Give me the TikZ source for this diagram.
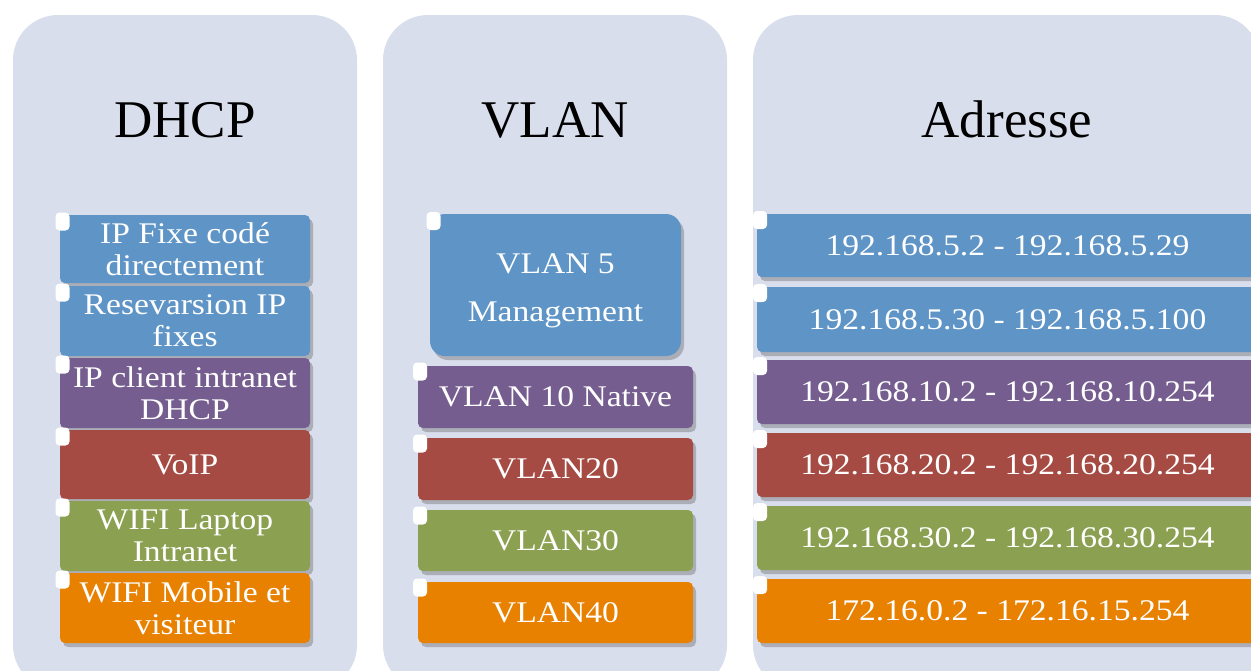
\documentclass[tikz,border=0pt]{standalone}
\usepackage{fontspec}
\setmainfont[FakeStretch=1.12]{Liberation Serif}
\newfontfamily\titlefont{Liberation Serif}
\usetikzlibrary{shadows}
\definecolor{panelc}{HTML}{D9DEEC}
\definecolor{cblue}{HTML}{5E94C6}
\definecolor{cpurple}{HTML}{755E8F}
\definecolor{cred}{HTML}{A64B43}
\definecolor{cgreen}{HTML}{8BA050}
\definecolor{corange}{HTML}{E88000}
\tikzset{
  panel/.style={fill=panelc, rounded corners=45pt},
  ttl/.style={anchor=base, font=\titlefont\fontsize{53}{56}\selectfont, text=black, inner sep=0pt},
  box/.style={rectangle, rounded corners=5pt, text=white, align=center, inner sep=0pt,
    font=\fontsize{30}{32}\selectfont,
    drop shadow={opacity=0.4, shadow xshift=3pt, shadow yshift=-4pt, fill=black!60}},
  tabmark/.style={rectangle, fill=white, rounded corners=4pt, minimum width=14pt, minimum height=18pt, inner sep=0pt}
}
\begin{document}
\begin{tikzpicture}[x=1pt, y=-1pt]
\useasboundingbox (0,0) rectangle (1251,670);
\clip (0,0) rectangle (1251,670);
% panels
\fill[panel] (13,15) rectangle (357,690);
\fill[panel] (383,15) rectangle (727,690);
\fill[panel] (753,15) rectangle (1260,690);
% titles
\node[ttl] (tdhcp) at (185,137) {DHCP};
\node[ttl] (tvlan) at (555,137) {VLAN};
\node[ttl] (tadr) at (1007,137) {Adresse};
% DHCP column
\node[box, fill=cblue, minimum width=250pt, minimum height=68pt] (d1) at (185,249) {IP Fixe codé\\directement};
\node[box, fill=cblue, minimum width=250pt, minimum height=70pt] (d2) at (185,321) {Resevarsion IP\\fixes};
\node[box, fill=cpurple, minimum width=250pt, minimum height=70pt] (d3) at (185,393) {IP client intranet\\DHCP};
\node[box, fill=cred, minimum width=250pt, minimum height=69pt] (d4) at (185,464.5) {VoIP};
\node[box, fill=cgreen, minimum width=250pt, minimum height=70pt] (d5) at (185,536) {WIFI Laptop\\Intranet};
\node[box, fill=corange, minimum width=250pt, minimum height=70pt] (d6) at (185,608) {WIFI Mobile et\\visiteur};
\foreach \t in {215,286,358,430,501,573} \node[tabmark] at (62.5,\t+6.5) {};
% VLAN column
\node[box, fill=cblue, rounded corners=15pt, minimum width=251pt, minimum height=142pt, font=\fontsize{30}{48}\selectfont] (v1) at (555.5,285) {\rule{0pt}{31pt}VLAN 5\\Management};
\node[box, fill=cpurple, minimum width=275pt, minimum height=62pt] (v2) at (555.5,397) {VLAN 10 Native};
\node[box, fill=cred, minimum width=275pt, minimum height=62pt] (v3) at (555.5,469) {VLAN20};
\node[box, fill=cgreen, minimum width=275pt, minimum height=61pt] (v4) at (555.5,540.5) {VLAN30};
\node[box, fill=corange, minimum width=275pt, minimum height=61pt] (v5) at (555.5,612.5) {VLAN40};
\node[tabmark] (vt1) at (433.5,221) {};
\foreach \t in {366,438,510,582} \node[tabmark] at (420,\t+5.5) {};
% Address column
\node[box, fill=cblue, minimum width=501pt, minimum height=63pt] (a1) at (1007.5,245.5) {192.168.5.2 - 192.168.5.29};
\node[box, fill=cblue, minimum width=501pt, minimum height=65pt] (a2) at (1007.5,319.5) {192.168.5.30 - 192.168.5.100};
\node[box, fill=cpurple, minimum width=501pt, minimum height=64pt] (a3) at (1007.5,392) {192.168.10.2 - 192.168.10.254};
\node[box, fill=cred, minimum width=501pt, minimum height=64pt] (a4) at (1007.5,465) {192.168.20.2 - 192.168.20.254};
\node[box, fill=cgreen, minimum width=501pt, minimum height=64pt] (a5) at (1007.5,538) {192.168.30.2 - 192.168.30.254};
\node[box, fill=corange, minimum width=501pt, minimum height=64pt] (a6) at (1007.5,611) {172.16.0.2 - 172.16.15.254};
\foreach \t in {214,287,360,433,506,579} \node[tabmark] at (760,\t+6) {};
\end{tikzpicture}
\end{document}
